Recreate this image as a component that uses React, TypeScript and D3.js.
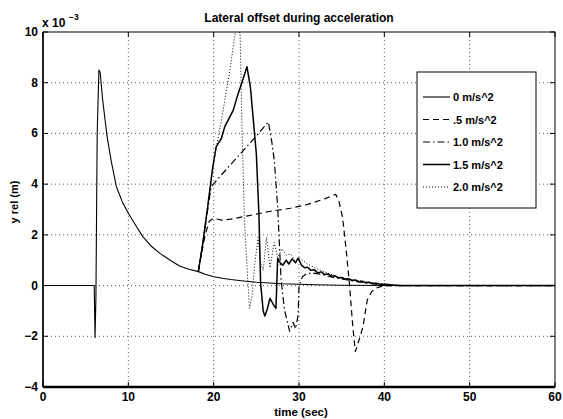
import React from "react";
import * as d3 from "d3";

const xTicks = [0, 10, 20, 30, 40, 50, 60];
const yTicks = [-4, -2, 0, 2, 4, 6, 8, 10];
const seriesLabels = ["0 m/s^2", ".5 m/s^2", "1.0 m/s^2", "1.5 m/s^2", "2.0 m/s^2"];

const t0 = [0, 6.0, 6.1, 6.2, 6.35, 6.55, 6.7, 7.0, 7.5, 8.0, 8.6, 9.3, 10.0, 11.0, 11.7, 12.7, 13.7, 15.0, 16.0, 17.0, 18.2, 19.0, 20.0, 21.0, 22.0, 23.5, 25.0, 26.5, 28.0, 30.0, 32.0, 35.0, 40.0, 60.0];
const v0 = [0, 0, -2.05, -0.5, 6.0, 8.5, 8.4, 7.3, 5.9, 4.9, 3.9, 3.3, 2.85, 2.3, 1.93, 1.55, 1.27, 0.98, 0.77, 0.65, 0.55, 0.45, 0.35, 0.29, 0.24, 0.18, 0.13, 0.1, 0.07, 0.05, 0.03, 0.01, 0, 0];

const t05 = [18.2, 18.6, 19.0, 19.5, 20.0, 21.0, 22.0, 24.0, 26.5, 29.0, 31.0, 33.0, 34.3, 34.7, 35.1, 35.5, 35.9, 36.3, 36.6, 37.1, 37.5, 38.0, 38.5, 39.0, 40.0, 60];
const v05 = [0.55, 1.3, 2.0, 2.55, 2.65, 2.58, 2.62, 2.75, 2.92, 3.05, 3.2, 3.42, 3.6, 3.3, 2.7, 1.5, 0.1, -1.6, -2.6, -2.08, -1.62, -0.57, -0.25, -0.1, 0, 0];

const t10 = [18.2, 18.8, 19.3, 19.7, 21.0, 23.0, 25.0, 26.4, 26.8, 27.1, 27.5, 27.9, 28.3, 28.9, 29.3, 29.6, 29.9, 30.0, 30.4, 30.8, 31.5, 32.5, 34, 36, 38, 40, 60];
const v10 = [0.55, 1.8, 3.0, 3.9, 4.4, 5.15, 5.9, 6.45, 5.7, 4.95, 3.1, 0.22, -0.96, -1.8, -1.45, -1.7, -1.16, 0.0, 0.35, 0.45, 0.5, 0.45, 0.32, 0.2, 0.1, 0, 0];

const t15 = [18.2, 18.7, 19.3, 19.9, 20.3, 20.9, 21.3, 22.3, 22.8, 23.4, 23.9, 24.3, 25.0, 25.3, 25.5, 25.8, 26.0, 26.3, 26.6, 27.0, 27.3, 27.5, 27.7, 28.1, 28.5, 28.8, 29.2, 29.6, 29.9, 30.3, 30.7, 31.0, 31.4, 31.8, 32.2, 32.6, 33.0, 33.4, 33.8, 34.2, 34.6, 35.0, 35.4, 35.8, 36.2, 36.6, 37.0, 37.4, 37.8, 38.2, 38.6, 39.0, 39.5, 40.0, 41.0, 42.0, 60];
const v15 = [0.55, 1.6, 3.1, 4.69, 5.48, 5.8, 6.27, 6.92, 7.5, 8.1, 8.63, 7.84, 5.2, 2.85, 0.1, -1.0, -1.2, -0.9, -0.5, -0.75, -0.9, 1.07, 0.94, 0.8, 1.0, 0.85, 1.05, 0.9, 1.08, 0.8, 0.7, 0.72, 0.6, 0.62, 0.5, 0.54, 0.44, 0.46, 0.37, 0.39, 0.3, 0.32, 0.25, 0.27, 0.2, 0.22, 0.15, 0.17, 0.11, 0.13, 0.08, 0.09, 0.05, 0.05, 0.02, 0, 0];

const t20 = [18.2, 18.8, 19.3, 19.9, 20.4, 20.9, 21.4, 21.9, 22.5, 22.8, 23.1, 23.3, 23.6, 24.0, 24.2, 24.5, 24.8, 25.2, 25.5, 25.8, 26.2, 26.6, 27.1, 27.5, 28.0, 28.5, 29.0, 29.5, 30.0, 31.0, 32.5, 34.5, 36.5, 39, 42, 60];
const v20 = [0.55, 1.9, 3.2, 4.6, 5.6, 6.5, 7.5, 8.5, 9.9, 10.3, 9.9, 6.5, 2.6, 0.2, -0.9, -0.4, 0.8, 1.9, 0.9, 0.6, 1.9, 0.7, 1.7, 1.1, 1.45, 1.2, 1.25, 1.0, 1.1, 0.85, 0.6, 0.35, 0.22, 0.1, 0, 0];

const W = 563;
const H = 419;
const M = { left: 43, right: 8, top: 32, bottom: 32 };

export default function App() {
  const x = d3.scaleLinear().domain([0, 60]).range([M.left, W - M.right]);
  const y = d3.scaleLinear().domain([-4, 10]).range([H - M.bottom, M.top]);
  const line = d3
    .line<[number, number]>()
    .x((d) => x(d[0]))
    .y((d) => y(d[1]));
  const zip = (t: number[], v: number[]) => t.map((tt, i) => [tt, v[i]] as [number, number]);

  const series = [
    { d: zip(t0, v0), dash: "none", w: 1.1 },
    { d: zip(t05, v05), dash: "6,4", w: 1.2 },
    { d: zip(t10, v10), dash: "7,3,1.5,3", w: 1.2 },
    { d: zip(t15, v15), dash: "none", w: 1.5 },
    { d: zip(t20, v20), dash: "1,2", w: 1 },
  ];

  const font = "Liberation Sans, Arial, Helvetica, sans-serif";
  const x0 = M.left, x1 = W - M.right, y0 = M.top, y1 = H - M.bottom;
  const legX = 417, legY = 72, legW = 119, legH = 136;

  return (
    <svg width={W} height={H} style={{ position: "absolute", left: 0, top: 0, background: "#fff" }} fontFamily={font}>
      <defs>
        <clipPath id="plotclip">
          <rect x={x0} y={y0} width={x1 - x0} height={y1 - y0} />
        </clipPath>
      </defs>
      <rect x={0} y={0} width={W} height={H} fill="#fff" />
      {/* grid */}
      {xTicks.slice(1, -1).map((t) => (
        <line key={"gx" + t} x1={x(t)} x2={x(t)} y1={y0} y2={y1} stroke="#333" strokeWidth={0.8} strokeDasharray="1,3" />
      ))}
      {yTicks.slice(1, -1).map((t) => (
        <line key={"gy" + t} x1={x0} x2={x1} y1={y(t)} y2={y(t)} stroke="#333" strokeWidth={0.8} strokeDasharray="1,3" />
      ))}
      {/* series */}
      <g clipPath="url(#plotclip)">
        {series.map((s, i) => (
          <path key={i} d={line(s.d) || ""} fill="none" stroke="#000" strokeWidth={s.w} strokeDasharray={s.dash} strokeLinejoin="round" />
        ))}
      </g>
      {/* frame */}
      <rect x={x0} y={y0} width={x1 - x0} height={y1 - y0} fill="none" stroke="#000" strokeWidth={1} />
      <line x1={x0} x2={x1} y1={y1} y2={y1} stroke="#000" strokeWidth={2.5} />
      <line x1={x0} x2={x0} y1={y0} y2={y1} stroke="#000" strokeWidth={1.5} />
      {/* ticks */}
      {xTicks.map((t) => (
        <g key={"tx" + t}>
          <line x1={x(t)} x2={x(t)} y1={y1} y2={y1 - 5} stroke="#000" />
          <line x1={x(t)} x2={x(t)} y1={y0} y2={y0 + 5} stroke="#000" />
          <text x={x(t)} y={y1 + 14} textAnchor="middle" fontSize={12} fontWeight="bold">{t}</text>
        </g>
      ))}
      {yTicks.map((t) => (
        <g key={"ty" + t}>
          <line x1={x0} x2={x0 + 5} y1={y(t)} y2={y(t)} stroke="#000" />
          <line x1={x1} x2={x1 - 5} y1={y(t)} y2={y(t)} stroke="#000" />
          <text x={x0 - 5} y={y(t) + 4} textAnchor="end" fontSize={12} fontWeight="bold">{t < 0 ? "\u2212" + Math.abs(t) : t}</text>
        </g>
      ))}
      {/* exponent */}
      <text x={42} y={27} fontSize={12} fontWeight="bold">x 10</text>
      <text x={69} y={20} fontSize={8.5} fontWeight="bold">−3</text>
      {/* title and axis labels */}
      <text x={299} y={22} textAnchor="middle" fontSize={12} fontWeight="bold">Lateral offset during acceleration</text>
      <text x={301} y={416} textAnchor="middle" fontSize={11.5} fontWeight="bold">time (sec)</text>
      <text transform="translate(18,202) rotate(-90)" textAnchor="middle" fontSize={11} fontWeight="bold">y rel (m)</text>
      {/* legend */}
      <rect x={legX} y={legY} width={legW} height={legH} fill="#fff" stroke="#000" strokeWidth={1} />
      {seriesLabels.map((lab, i) => {
        const ly = legY + 25 + i * 22.5;
        const s = series[i];
        return (
          <g key={lab}>
            <line x1={legX + 6} x2={legX + 33} y1={ly} y2={ly} stroke="#000" strokeWidth={s.w} strokeDasharray={s.dash} />
            <text x={legX + 36} y={ly + 4} fontSize={11} fontWeight="bold">{lab}</text>
          </g>
        );
      })}
    </svg>
  );
}
